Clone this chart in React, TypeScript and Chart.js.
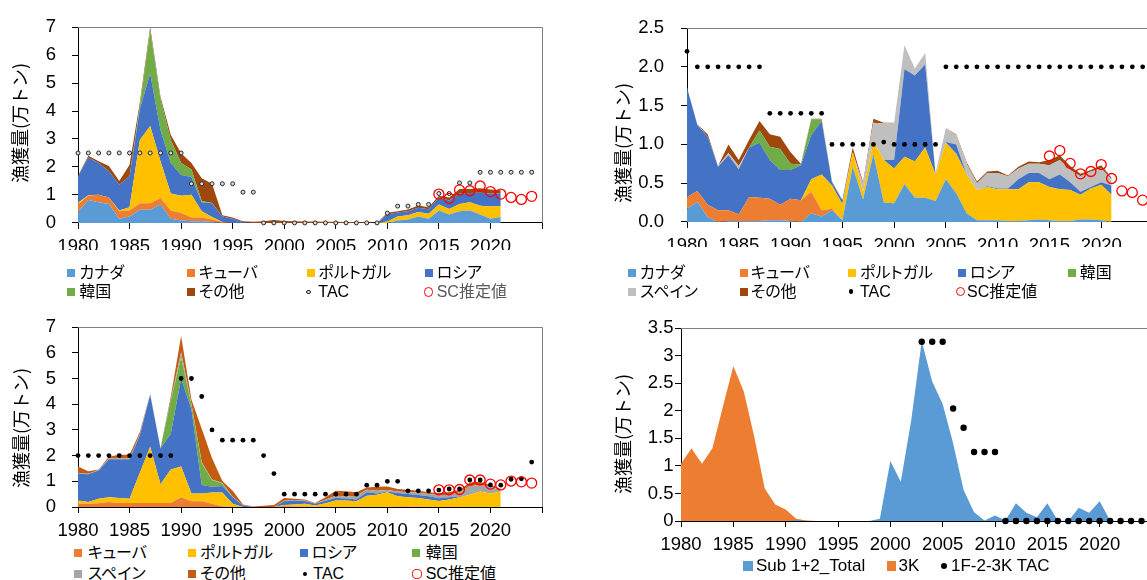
import React, { useEffect, useRef } from 'react';
import { Chart, registerables } from 'chart.js';

Chart.register(...registerables);

// ---------- categories ----------
const years = [
  1980, 1981, 1982, 1983, 1984, 1985, 1986, 1987, 1988, 1989,
  1990, 1991, 1992, 1993, 1994, 1995, 1996, 1997, 1998, 1999,
  2000, 2001, 2002, 2003, 2004, 2005, 2006, 2007, 2008, 2009,
  2010, 2011, 2012, 2013, 2014, 2015, 2016, 2017, 2018, 2019,
  2020, 2021, 2022, 2023, 2024,
];
const scYears = [2015, 2016, 2017, 2018, 2019, 2020, 2021, 2022, 2023, 2024];

// ---------- panel A (upper left): catch by country, 1980-2021 (万トン) ----------
const aCanada = [
  0.39, 0.82, 0.74, 0.68, 0.15, 0.23, 0.47, 0.47, 0.66, 0.15,
  0.09, 0.06, 0.06, 0.03, 0, 0, 0, 0, 0, 0,
  0, 0, 0, 0, 0, 0, 0, 0, 0, 0,
  0, 0.09, 0.12, 0.23, 0.15, 0.44, 0.30, 0.42, 0.44, 0.30,
  0.15, 0.21,
];
const aCuba = [
  0.27, 0.15, 0.27, 0.23, 0.27, 0.21, 0.23, 0.23, 0.23, 0.29,
  0.26, 0.13, 0.13, 0.09, 0.03, 0, 0, 0, 0, 0,
  0, 0, 0, 0, 0, 0, 0, 0, 0, 0,
  0, 0, 0, 0, 0, 0, 0, 0, 0, 0,
  0, 0,
];
const aPortugal = [
  0.06, 0.02, 0, 0, 0.02, 0.12, 2.26, 2.76, 1.31, 0.61,
  0.62, 0.82, 0.23, 0.09, 0, 0, 0, 0, 0, 0,
  0, 0, 0, 0, 0, 0, 0, 0, 0, 0,
  0.05, 0.14, 0.15, 0.16, 0.18, 0.22, 0.20, 0.26, 0.30, 0.31,
  0.44, 0.39,
];
const aRussia = [
  0.95, 1.35, 1.13, 0.94, 0.92, 1.11, 1.11, 1.88, 1.11, 1.09,
  0.74, 0.63, 0.32, 0.49, 0.20, 0.15, 0.02, 0, 0, 0,
  0, 0, 0, 0, 0, 0, 0, 0, 0, 0,
  0.25, 0.14, 0.15, 0.15, 0.16, 0.25, 0.30, 0.37, 0.33, 0.47,
  0.46, 0.45,
];
const aKorea = [
  0, 0, 0, 0, 0, 0, 0.12, 1.54, 1.11, 0.82,
  0.43, 0.27, 0.04, 0.01, 0, 0, 0, 0, 0, 0,
  0, 0, 0, 0, 0, 0, 0, 0, 0, 0,
  0, 0, 0, 0, 0, 0, 0, 0, 0, 0,
  0, 0,
];
const aOther = [
  0.02, 0.06, 0.06, 0.18, 0.14, 0.41, 0.12, 0.12, 0.09, 0.18,
  0.35, 0.23, 0.82, 0.69, 0.04, 0.04, 0.04, 0.04, 0.06, 0.10,
  0.07, 0.06, 0.05, 0.05, 0.04, 0.04, 0.03, 0.02, 0.02, 0,
  0.06, 0.05, 0.06, 0.08, 0.07, 0.06, 0.11, 0.16, 0.14, 0.16,
  0.14, 0.12,
];
const aTac = [
  2.5, 2.5, 2.5, 2.5, 2.5, 2.5, 2.5, 2.5, 2.5, 2.5,
  2.5, 1.4, 1.4, 1.4, 1.4, 1.4, 1.1, 1.1, 0, 0,
  0, 0, 0, 0, 0, 0, 0, 0, 0, 0,
  0.35, 0.6, 0.6, 0.66, 0.66, 1.05, 1.05, 1.43, 1.43, 1.81,
  1.81, 1.81, 1.81, 1.81, 1.81,
];
const aSc = [1.03, 0.88, 1.18, 1.15, 1.32, 1.12, 1.03, 0.91, 0.84, 0.95];

// ---------- panel B (upper right) ----------
const bCanada = [
  0.17, 0.26, 0.06, 0, 0.01, 0.01, 0.01, 0.01, 0.02, 0.02,
  0.01, 0, 0.11, 0.07, 0.15, 0.02, 0.71, 0.29, 0.88, 0.25,
  0.24, 0.49, 0.31, 0.31, 0.27, 0.55, 0.37, 0.11, 0.02, 0.02,
  0.02, 0.01, 0.01, 0.02, 0.03, 0.02, 0.01, 0.01, 0.03, 0.03,
  0.02, 0,
];
const bCuba = [
  0.15, 0.14, 0.16, 0.15, 0.14, 0.09, 0.31, 0.30, 0.28, 0.20,
  0.29, 0.28, 0.28, 0.08, 0.02, 0, 0, 0, 0, 0,
  0, 0, 0, 0, 0, 0, 0, 0, 0, 0,
  0, 0, 0, 0, 0, 0, 0, 0, 0, 0,
  0, 0,
];
const bPortugal = [
  0, 0, 0, 0, 0, 0, 0, 0, 0, 0,
  0, 0, 0.16, 0.46, 0.30, 0.21, 0.19, 0.10, 0.16, 0.55,
  0.45, 0.35, 0.47, 0.65, 0.34, 0.47, 0.51, 0.50, 0.39, 0.43,
  0.40, 0.41, 0.41, 0.49, 0.48, 0.43, 0.41, 0.40, 0.32, 0.40,
  0.46, 0.35,
];
const bRussia = [
  1.41, 0.85, 0.88, 0.56, 0.71, 0.58, 0.64, 0.71, 0.50, 0.45,
  0.37, 0.45, 0.57, 0.69, 0.04, 0.05, 0, 0, 0, 0,
  0.11, 1.13, 1.11, 1.07, 0, 0.01, 0.12, 0, 0, 0.01,
  0.01, 0.01, 0.13, 0.12, 0.12, 0.10, 0.19, 0.10, 0.04, 0.02,
  0.03, 0.12,
];
const bKorea = [
  0, 0, 0, 0, 0, 0, 0, 0.16, 0.17, 0.27,
  0.08, 0.01, 0.20, 0.02, 0, 0, 0, 0, 0, 0,
  0, 0, 0, 0, 0, 0, 0, 0, 0, 0,
  0, 0, 0, 0, 0, 0, 0, 0, 0, 0,
  0, 0,
];
const bSpain = [
  0.01, 0.01, 0, 0.01, 0.03, 0.04, 0, 0, 0, 0,
  0, 0, 0, 0, 0, 0.01, 0, 0.10, 0.24, 0.47,
  0.48, 0.31, 0.09, 0.15, 0.02, 0.18, 0.12, 0.14, 0.09, 0.17,
  0.20, 0.16, 0.14, 0.12, 0.12, 0.18, 0.19, 0.16, 0.20, 0.20,
  0.18, 0.08,
];
const bOther = [
  0, 0, 0.03, 0, 0.11, 0.08, 0.10, 0.12, 0.16, 0.16,
  0.15, 0.01, 0.01, 0.01, 0.01, 0, 0.06, 0.02, 0.05, 0.01,
  0, 0, 0, 0, 0, 0, 0.01, 0.02, 0.02, 0.02,
  0.03, 0.01, 0.02, 0.03, 0.02, 0.07, 0.06, 0.05, 0.03, 0.02,
  0.04, 0.02,
];
const bTac = [
  2.2, 2.0, 2.0, 2.0, 2.0, 2.0, 2.0, 2.0, 1.4, 1.4,
  1.4, 1.4, 1.4, 1.4, 1.0, 1.0, 1.0, 1.0, 1.0, 1.03,
  1.0, 1.0, 1.0, 1.0, 1.0, 2.0, 2.0, 2.0, 2.0, 2.0,
  2.0, 2.0, 2.0, 2.0, 2.0, 2.0, 2.0, 2.0, 2.0, 2.0,
  2.0, 2.0, 2.0, 2.0, 2.0,
];
const bSc = [0.85, 0.92, 0.755, 0.62, 0.65, 0.74, 0.56, 0.40, 0.38, 0.28];

// ---------- panel C (lower left) ----------
const cCuba = [
  0.13, 0.13, 0.15, 0.19, 0.16, 0.16, 0.16, 0.16, 0.16, 0.16,
  0.38, 0.22, 0.22, 0.13, 0.03, 0, 0, 0, 0, 0,
  0.04, 0.02, 0.02, 0, 0, 0, 0, 0, 0, 0,
  0, 0.02, 0.02, 0.01, 0, 0, 0, 0, 0, 0,
  0, 0,
];
const cPortugal = [
  0.12, 0.06, 0.17, 0.19, 0.19, 0.16, 1.17, 2.18, 0.73, 1.30,
  1.20, 0.31, 0.31, 0.43, 0.53, 0.13, 0, 0, 0, 0,
  0.04, 0.08, 0.11, 0.06, 0.15, 0.25, 0.25, 0.22, 0.44, 0.48,
  0.57, 0.40, 0.36, 0.34, 0.29, 0.23, 0.29, 0.38, 0.48, 0.60,
  0.53, 0.60,
];
const cRussia = [
  1.04, 1.08, 1.10, 1.48, 1.51, 1.54, 1.46, 2.03, 1.39, 1.39,
  3.42, 3.27, 0.33, 0.23, 0.26, 0.25, 0.06, 0, 0, 0,
  0.14, 0.15, 0.10, 0.07, 0.09, 0.10, 0.08, 0.07, 0.13, 0.05,
  0.03, 0.12, 0.13, 0.12, 0.13, 0.11, 0.09, 0.03, 0, 0,
  0, 0,
];
const cKorea = [
  0, 0, 0, 0, 0, 0, 0, 0, 0, 1.30,
  0.83, 0.19, 0.85, 0.26, 0.09, 0, 0, 0, 0, 0,
  0, 0, 0, 0, 0, 0, 0, 0, 0, 0,
  0, 0, 0, 0, 0, 0, 0, 0, 0, 0,
  0, 0,
];
const cSpain = [
  0.03, 0.02, 0.02, 0.03, 0.03, 0.04, 0.03, 0.04, 0.03, 0.03,
  0.19, 0.03, 0.03, 0.02, 0.02, 0.02, 0.01, 0, 0, 0,
  0.02, 0.02, 0.02, 0.01, 0.04, 0.09, 0.08, 0.15, 0.10, 0.10,
  0.06, 0.06, 0.06, 0.09, 0.09, 0.13, 0.09, 0.16, 0.34, 0.25,
  0.27, 0.06,
];
const cOther = [
  0.26, 0.10, 0.02, 0.07, 0.14, 0.13, 0.10, 0, 0, 0.12,
  0.63, 0.16, 1.30, 0.83, 0.08, 0.23, 0.03, 0.02, 0.05, 0.08,
  0.11, 0.05, 0.04, 0.02, 0.10, 0.19, 0.20, 0.13, 0.09, 0.16,
  0.14, 0.10, 0.10, 0.07, 0.06, 0.07, 0.11, 0.09, 0.13, 0.13,
  0.06, 0.05,
];
const cTac = [
  2.0, 2.0, 2.0, 2.0, 2.0, 2.0, 2.0, 2.0, 2.0, 2.0,
  5.0, 5.0, 4.3, 3.0, 2.6, 2.6, 2.6, 2.6, 2.0, 1.3,
  0.5, 0.5, 0.5, 0.5, 0.5, 0.5, 0.5, 0.5, 0.85, 0.85,
  1.0, 1.0, 0.63, 0.63, 0.63, 0.66, 0.70, 0.70, 1.05, 1.05,
  0.86, 0.85, 1.08, 1.10, 1.75,
];
const cSc = [0.67, 0.67, 0.68, 1.05, 1.05, 0.89, 0.86, 1.01, 0.98, 0.93];

// ---------- panel D (lower right) ----------
const dSub12 = [
  0, 0, 0, 0, 0, 0, 0, 0, 0, 0,
  0, 0.02, 0, 0, 0, 0, 0, 0, 0, 0.04,
  1.09, 0.71, 1.83, 3.26, 2.53, 2.12, 1.41, 0.56, 0.16, 0.01,
  0.10, 0.01, 0.32, 0.15, 0.07, 0.32, 0.01, 0, 0.24, 0.15,
  0.36, 0.01,
];
const d3K = [
  1.04, 1.32, 1.04, 1.32, 2.07, 2.81, 2.35, 1.53, 0.59, 0.30,
  0.21, 0.04, 0.01, 0, 0, 0, 0, 0, 0, 0,
  0, 0, 0, 0, 0, 0, 0, 0, 0, 0,
  0, 0, 0, 0, 0, 0, 0, 0, 0, 0,
  0, 0,
];
const dTac = [
  null, null, null, null, null, null, null, null, null, null,
  null, null, null, null, null, null, null, null, null, null,
  null, null, null, 3.25, 3.25, 3.25, 2.04, 1.69, 1.25, 1.25,
  1.25, 0, 0, 0, 0, 0, 0, 0, 0, 0,
  0, 0, 0, 0, 0,
];

// ---------- colours ----------
const C_CANADA = '#5B9BD5';
const C_CUBA = '#ED7D31';
const C_PORTUGAL = '#FFC000';
const C_RUSSIA = '#4472C4';
const C_KOREA = '#70AD47';
const C_SPAIN_B = '#BFBFBF';
const C_SPAIN_C = '#A5A5A5';
const C_OTHER_A = '#9E480E';
const C_OTHER_C = '#C55A11';
const C_SC = '#FF0000';

const FONT_LATIN = "'Liberation Sans', Arial, sans-serif";
const FONT_JP = "'Liberation Sans', 'Noto Sans CJK JP', sans-serif";
const TITLE = '漁獲量(万トン)';

Chart.defaults.font.family = FONT_LATIN;

type Area = { label: string; color: string; values: number[] };

function areaSets(series: Area[], stacked: boolean) {
  return series.map((s, i) => ({
    type: 'line',
    label: s.label,
    data: s.values,
    backgroundColor: s.color,
    borderColor: 'rgba(0,0,0,0)',
    borderWidth: 0,
    pointRadius: 0,
    tension: 0,
    fill: stacked ? (i === 0 ? 'origin' : '-1') : 'origin',
    stack: 'catch',
    order: 2,
  }));
}

function tacSet(values: (number | null)[], kind: 'ring' | 'dot', radius: number) {
  return {
    type: 'line',
    label: 'TAC',
    data: values,
    showLine: false,
    pointRadius: radius,
    pointStyle: 'circle',
    pointBackgroundColor: kind === 'ring' ? '#d9d9d9' : '#000000',
    pointBorderColor: kind === 'ring' ? '#262626' : '#000000',
    pointBorderWidth: kind === 'ring' ? 1 : 0,
    stack: 'tac',
    order: 1,
    clip: false,
  };
}

function scSet(values: number[]) {
  return {
    type: 'line',
    label: 'SC推定値',
    data: scYears.map((x, i) => ({ x, y: values[i] })),
    showLine: false,
    pointRadius: 5,
    pointStyle: 'circle',
    pointBackgroundColor: 'rgba(0,0,0,0)',
    pointBorderColor: C_SC,
    pointBorderWidth: 1.3,
    stack: 'sc',
    order: 0,
    clip: false,
  };
}

type AxisSpec = {
  yMax: number;
  yStep: number;
  yFmt: (v: number) => string;
  yPad: number;
  yWidth: number;
  xHeight: number;
  stacked: boolean;
};

function buildScales(a: AxisSpec) {
  const tickFont = { family: FONT_LATIN, size: 18.5 };
  const grid = { drawOnChartArea: false, drawTicks: true, tickLength: 6, color: '#000000', lineWidth: 1 };
  const border = { display: true, color: '#000000', width: 1 };
  return {
    x: {
      type: 'linear',
      min: 1980,
      max: 2025,
      z: 1,
      grid,
      border,
      afterFit: (s: any) => {
        s.height = a.xHeight;
      },
      ticks: {
        stepSize: 5,
        autoSkip: false,
        maxRotation: 0,
        minRotation: 0,
        padding: 7,
        color: '#000000',
        font: tickFont,
        callback: (v: number) => (v < 2025 ? String(v) : ''),
      },
    },
    y: {
      type: 'linear',
      min: 0,
      max: a.yMax,
      stacked: a.stacked,
      z: 1,
      grid,
      border,
      afterFit: (s: any) => {
        s.width = a.yWidth;
      },
      ticks: {
        stepSize: a.yStep,
        padding: a.yPad,
        color: '#000000',
        font: tickFont,
        callback: (v: number) => a.yFmt(v),
      },
    },
  };
}

// grey frame along the top and right of the plot area
const framePlugin = {
  id: 'plotFrame',
  afterDraw(chart: any) {
    const { ctx, chartArea } = chart;
    const t = Math.round(chartArea.top - 0.5) + 0.5;
    const r = Math.round(chartArea.right - 0.5) + 0.5;
    ctx.save();
    ctx.strokeStyle = '#7f7f7f';
    ctx.lineWidth = 1;
    ctx.beginPath();
    ctx.moveTo(chartArea.left, t);
    ctx.lineTo(r, t);
    ctx.lineTo(r, chartArea.bottom);
    ctx.stroke();
    ctx.restore();
  },
};

type PanelSpec = {
  left: number;
  top: number;
  width: number;
  height: number;
  padTop: number;
  padRight: number;
  axis: AxisSpec;
  datasets: any[];
};

const intFmt = (v: number) => String(v);
const oneDec = (v: number) => v.toFixed(1);
const trimFmt = (v: number) => String(+v.toFixed(1));

const panels: PanelSpec[] = [
  {
    left: 0, top: 0, width: 560, height: 250, padTop: 23, padRight: 18,
    axis: { yMax: 7, yStep: 1, yFmt: intFmt, yPad: 16, yWidth: 78, xHeight: 27, stacked: true },
    datasets: [
      ...areaSets([
        { label: 'カナダ', color: C_CANADA, values: aCanada },
        { label: 'キューバ', color: C_CUBA, values: aCuba },
        { label: 'ポルトガル', color: C_PORTUGAL, values: aPortugal },
        { label: 'ロシア', color: C_RUSSIA, values: aRussia },
        { label: '韓国', color: C_KOREA, values: aKorea },
        { label: 'その他', color: C_OTHER_A, values: aOther },
      ], true),
      tacSet(aTac, 'ring', 2),
      scSet(aSc),
    ],
  },
  {
    left: 580, top: 0, width: 620, height: 250, padTop: 20, padRight: 47,
    axis: { yMax: 2.5, yStep: 0.5, yFmt: oneDec, yPad: 17, yWidth: 107, xHeight: 25, stacked: true },
    datasets: [
      ...areaSets([
        { label: 'カナダ', color: C_CANADA, values: bCanada },
        { label: 'キューバ', color: C_CUBA, values: bCuba },
        { label: 'ポルトガル', color: C_PORTUGAL, values: bPortugal },
        { label: 'ロシア', color: C_RUSSIA, values: bRussia },
        { label: '韓国', color: C_KOREA, values: bKorea },
        { label: 'スペイン', color: C_SPAIN_B, values: bSpain },
        { label: 'その他', color: C_OTHER_A, values: bOther },
      ], true),
      tacSet(bTac, 'dot', 2.4),
      scSet(bSc),
    ],
  },
  {
    left: 0, top: 300, width: 560, height: 240, padTop: 23, padRight: 18,
    axis: { yMax: 7, yStep: 1, yFmt: intFmt, yPad: 16, yWidth: 78, xHeight: 33, stacked: true },
    datasets: [
      ...areaSets([
        { label: 'キューバ', color: C_CUBA, values: cCuba },
        { label: 'ポルトガル', color: C_PORTUGAL, values: cPortugal },
        { label: 'ロシア', color: C_RUSSIA, values: cRussia },
        { label: '韓国', color: C_KOREA, values: cKorea },
        { label: 'スペイン', color: C_SPAIN_C, values: cSpain },
        { label: 'その他', color: C_OTHER_C, values: cOther },
      ], true),
      tacSet(cTac, 'dot', 2.4),
      scSet(cSc),
    ],
  },
  {
    left: 580, top: 300, width: 620, height: 256, padTop: 28, padRight: 48,
    axis: { yMax: 3.5, yStep: 0.5, yFmt: trimFmt, yPad: 1.5, yWidth: 101, xHeight: 35, stacked: false },
    datasets: [
      ...areaSets([
        { label: 'Sub 1+2_Total', color: C_CANADA, values: dSub12 },
        { label: '3K', color: C_CUBA, values: d3K },
      ], false),
      tacSet(dTac, 'dot', 3.2),
    ],
  },
];

type LegendItem = {
  kind: 'box' | 'dot' | 'ring' | 'circle';
  label: string;
  mx: number; // box: left edge, others: centre
  tx: number;
  y: number;
  color?: string;
  size?: number;
  font?: number;
  textColor?: string;
};

const legendItems: LegendItem[] = [
  // upper left
  { kind: 'box', label: 'カナダ', mx: 66.7, tx: 79.3, y: 273, color: C_CANADA },
  { kind: 'box', label: 'キューバ', mx: 186.7, tx: 198.7, y: 273, color: C_CUBA },
  { kind: 'box', label: 'ポルトガル', mx: 306.7, tx: 318.3, y: 273, color: C_PORTUGAL },
  { kind: 'box', label: 'ロシア', mx: 425, tx: 436.7, y: 273, color: C_RUSSIA },
  { kind: 'box', label: '韓国', mx: 66.7, tx: 79.3, y: 292, color: C_KOREA },
  { kind: 'box', label: 'その他', mx: 186.7, tx: 198.7, y: 292, color: C_OTHER_A },
  { kind: 'ring', label: 'TAC', mx: 308.3, tx: 318.3, y: 292 },
  { kind: 'circle', label: 'SC推定値', mx: 428.8, tx: 436.7, y: 292, textColor: '#595959' },
  // upper right
  { kind: 'box', label: 'カナダ', mx: 628, tx: 640, y: 273.3, color: C_CANADA },
  { kind: 'box', label: 'キューバ', mx: 739.5, tx: 750.7, y: 273.3, color: C_CUBA },
  { kind: 'box', label: 'ポルトガル', mx: 847.7, tx: 860, y: 273.3, color: C_PORTUGAL },
  { kind: 'box', label: 'ロシア', mx: 957.6, tx: 970, y: 273.3, color: C_RUSSIA },
  { kind: 'box', label: '韓国', mx: 1068, tx: 1079.8, y: 273.3, color: C_KOREA },
  { kind: 'box', label: 'スペイン', mx: 628, tx: 640, y: 291.7, color: C_SPAIN_B },
  { kind: 'box', label: 'その他', mx: 739.5, tx: 750.7, y: 291.7, color: C_OTHER_A },
  { kind: 'dot', label: 'TAC', mx: 851, tx: 860, y: 291.7 },
  { kind: 'circle', label: 'SC推定値', mx: 960.5, tx: 967, y: 291.7 },
  // lower left
  { kind: 'box', label: 'キューバ', mx: 74.3, tx: 87.7, y: 553.3, color: C_CUBA },
  { kind: 'box', label: 'ポルトガル', mx: 187.7, tx: 200, y: 553.3, color: C_PORTUGAL },
  { kind: 'box', label: 'ロシア', mx: 300, tx: 311.7, y: 553.3, color: C_RUSSIA },
  { kind: 'box', label: '韓国', mx: 412.3, tx: 425.7, y: 553.3, color: C_KOREA },
  { kind: 'box', label: 'スペイン', mx: 74.3, tx: 87.7, y: 574, color: C_SPAIN_C },
  { kind: 'box', label: 'その他', mx: 187.7, tx: 200, y: 574, color: C_OTHER_C },
  { kind: 'dot', label: 'TAC', mx: 305, tx: 313.3, y: 574 },
  { kind: 'circle', label: 'SC推定値', mx: 417, tx: 425.7, y: 574 },
  // lower right
  { kind: 'box', label: 'Sub 1+2_Total', mx: 743, tx: 756, y: 566, color: C_CANADA, size: 9.5, font: 17 },
  { kind: 'box', label: '3K', mx: 886.5, tx: 898.5, y: 566, color: C_CUBA, size: 9.5, font: 17 },
  { kind: 'dot', label: '1F-2-3K TAC', mx: 943.7, tx: 951, y: 566, size: 3.2, font: 17 },
];

const axisTitles = [
  { x: 19, y: 123 },
  { x: 622, y: 142.5 },
  { x: 20, y: 428 },
  { x: 621.7, y: 434 },
];

function Marker({ it }: { it: LegendItem }) {
  if (it.kind === 'box') {
    const s = it.size ?? 8;
    return (
      <div
        style={{
          position: 'absolute',
          left: it.mx,
          top: it.y - s / 2,
          width: s,
          height: s,
          background: it.color,
        }}
      />
    );
  }
  if (it.kind === 'dot') {
    const r = it.size ?? 2.4;
    return (
      <div
        style={{
          position: 'absolute',
          left: it.mx - r,
          top: it.y - r,
          width: 2 * r,
          height: 2 * r,
          borderRadius: '50%',
          background: '#000',
        }}
      />
    );
  }
  if (it.kind === 'ring') {
    const r = 2.3;
    return (
      <div
        style={{
          position: 'absolute',
          left: it.mx - r,
          top: it.y - r,
          width: 2 * r,
          height: 2 * r,
          boxSizing: 'border-box',
          borderRadius: '50%',
          border: '1px solid #262626',
          background: '#d9d9d9',
        }}
      />
    );
  }
  const r = 4.6;
  return (
    <div
      style={{
        position: 'absolute',
        left: it.mx - r,
        top: it.y - r,
        width: 2 * r,
        height: 2 * r,
        boxSizing: 'border-box',
        borderRadius: '50%',
        border: `1.3px solid ${C_SC}`,
      }}
    />
  );
}

export default function App() {
  const refs = useRef<(HTMLCanvasElement | null)[]>([]);

  useEffect(() => {
    const charts = panels.map((p, i) => {
      const canvas = refs.current[i] as HTMLCanvasElement;
      return new Chart(canvas, {
        type: 'line',
        data: { labels: years, datasets: p.datasets as any },
        options: {
          animation: false,
          responsive: false,
          devicePixelRatio: 1,
          events: [],
          layout: { padding: { top: p.padTop, right: p.padRight, left: 0, bottom: 0 } },
          plugins: {
            legend: { display: false },
            tooltip: { enabled: false },
            title: { display: false },
          },
          scales: buildScales(p.axis) as any,
        },
        plugins: [framePlugin],
      });
    });
    return () => charts.forEach((c) => c.destroy());
  }, []);

  return (
    <div
      style={{
        position: 'fixed',
        left: 0,
        top: 0,
        width: 1147,
        height: 580,
        overflow: 'hidden',
        background: '#ffffff',
      }}
    >
      {panels.map((p, i) => (
        <canvas
          key={i}
          ref={(el) => {
            refs.current[i] = el;
          }}
          width={p.width}
          height={p.height}
          style={{ position: 'absolute', left: p.left, top: p.top, width: p.width, height: p.height }}
        />
      ))}
      {axisTitles.map((t, i) => (
        <div
          key={`t${i}`}
          style={{
            position: 'absolute',
            left: t.x,
            top: t.y,
            transform: 'translate(-50%, -50%) rotate(-90deg)',
            fontFamily: "'Noto Sans CJK JP', sans-serif",
            fontSize: 18,
            lineHeight: 1,
            whiteSpace: 'nowrap',
            color: '#000',
          }}
        >
          {TITLE}
        </div>
      ))}
      {legendItems.map((it, i) => (
        <React.Fragment key={`l${i}`}>
          <Marker it={it} />
          <div
            style={{
              position: 'absolute',
              left: it.tx,
              top: it.y - 11,
              height: 22,
              lineHeight: '22px',
              fontFamily: FONT_JP,
              fontSize: it.font ?? 16,
              fontFeatureSettings: '"palt"',
              whiteSpace: 'nowrap',
              color: it.textColor ?? '#000',
            }}
          >
            {it.label}
          </div>
        </React.Fragment>
      ))}
    </div>
  );
}
